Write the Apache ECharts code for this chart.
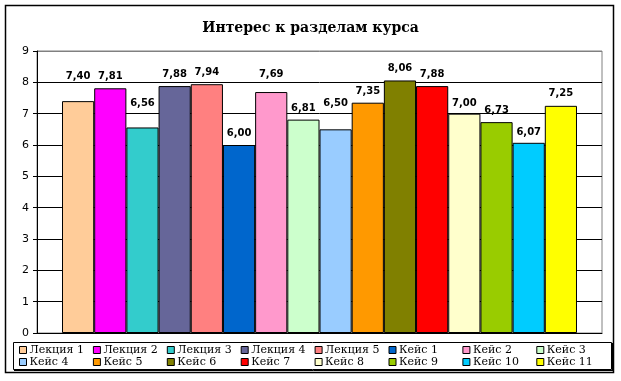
<!DOCTYPE html>
<html>
<head>
<meta charset="utf-8">
<script src="https://cdn.jsdelivr.net/npm/echarts@6/dist/echarts.min.js"></script>
<style>
html,body{margin:0;padding:0;background:#fff;}
#chart{width:621px;height:381px;}
</style>
</head>
<body>
<div id="chart"></div>
<script>
const seriesNames = ['Лекция 1','Лекция 2','Лекция 3','Лекция 4','Лекция 5','Кейс 1','Кейс 2','Кейс 3','Кейс 4','Кейс 5','Кейс 6','Кейс 7','Кейс 8','Кейс 9','Кейс 10','Кейс 11'];
const seriesValues = [7.40, 7.81, 6.56, 7.88, 7.94, 6.00, 7.69, 6.81, 6.50, 7.35, 8.06, 7.88, 7.00, 6.73, 6.07, 7.25];
const yTicks = [0,1,2,3,4,5,6,7,8,9];

const seriesColors = ['#FFCC99','#FF00FF','#33CCCC','#666699','#FF8080','#0066CC','#FF99CC','#CCFFCC','#99CCFF','#FF9900','#808000','#FF0000','#FFFFCC','#99CC00','#00CCFF','#FFFF00'];
const labelGaps = [20,7,19.5,7,7,7,13,6.5,21,6.5,7.5,7,5.5,7,5,7];

const chart = echarts.init(document.getElementById('chart'));
const option = {
  animation: false,
  backgroundColor: '#fff',
  title: {
    text: 'Интерес к разделам курса',
    left: 'center',
    top: 16,
    textStyle: {fontFamily: 'DejaVu Serif', fontWeight: 'bold', fontSize: 14, color: '#000'}
  },
  grid: {left: 37, top: 51, right: 19, bottom: 48, show: true, borderColor: '#808080', borderWidth: 1, backgroundColor: '#fff'},
  legend: {
    data: seriesNames,
    left: 19, top: 344, width: 620,
    orient: 'horizontal',
    itemGap: 0,
    itemWidth: 7, itemHeight: 7,
    icon: 'rect',
    padding: 0,
    itemStyle: {borderColor: '#000', borderWidth: 1},
    textStyle: {fontFamily: 'DejaVu Serif', fontSize: 11, color: '#000', width: 63.4, lineHeight: 12, padding: [0,0,0,-2]},
    selectedMode: false
  },
  xAxis: {
    type: 'category', data: [''],
    axisLine: {show: true, lineStyle: {color: '#000', width: 1}},
    axisTick: {show: false}, axisLabel: {show: false}, splitLine: {show: false}
  },
  yAxis: {
    type: 'value', min: yTicks[0], max: yTicks[yTicks.length-1], interval: 1,
    axisLine: {show: true, lineStyle: {color: '#000', width: 1}},
    axisTick: {show: true, length: 4, lineStyle: {color: '#000'}},
    axisLabel: {fontFamily: 'DejaVu Sans', fontSize: 11, color: '#000', margin: 8},
    splitLine: {show: true, lineStyle: {color: ['#000','#000','#000','#000','#000','#000','#000','#000','#000','#808080'], width: 1}}
  },
  graphic: [
    {type: 'rect', shape: {x: 5.5, y: 5.5, width: 608, height: 367}, style: {fill: 'none', stroke: '#000', lineWidth: 1.5}, z: 100, silent: true},
    {type: 'rect', shape: {x: 13.5, y: 342.5, width: 598, height: 27}, style: {fill: 'none', stroke: '#000', lineWidth: 1}, z: 100, silent: true},
    {type: 'line', shape: {x1: 14, y1: 370.5, x2: 612.5, y2: 370.5}, style: {stroke: '#000', lineWidth: 1}, z: 100, silent: true},
    {type: 'line', shape: {x1: 612.5, y1: 343, x2: 612.5, y2: 371}, style: {stroke: '#000', lineWidth: 1}, z: 100, silent: true}
  ],
  series: seriesNames.map((name, i) => ({
    name: name,
    type: 'bar',
    data: [seriesValues[i]],
    barGap: '0%',
    barCategoryGap: '8.85%',
    itemStyle: {color: seriesColors[i], borderColor: '#000', borderWidth: 1},
    label: {
      show: true, position: 'top', distance: labelGaps[i],
      fontFamily: 'DejaVu Sans', fontWeight: 'bold', fontSize: 10, color: '#000',
      formatter: p => p.value.toFixed(2).replace('.', ',')
    }
  }))
};
chart.setOption(option);
</script>
</body>
</html>
